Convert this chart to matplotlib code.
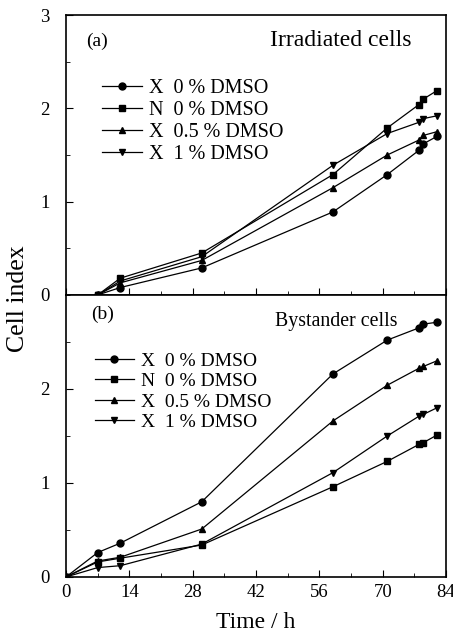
import matplotlib
matplotlib.use("Agg")
import matplotlib.pyplot as plt
from matplotlib.ticker import MultipleLocator

plt.rcParams['font.family'] = ['Liberation Serif', 'DejaVu Serif']

# Data
labels = ["X  0 % DMSO", "N  0 % DMSO", "X  0.5 % DMSO", "X  1 % DMSO"]
markers = ["o", "s", "^", "v"]

# (a) irradiated cells
time_a = [7, 12, 30, 59, 71, 78, 79, 82]
x0_a = [0.0, 0.08, 0.29, 0.89, 1.29, 1.55, 1.62, 1.70]
n0_a = [0.0, 0.18, 0.45, 1.29, 1.79, 2.04, 2.10, 2.19]
x05_a = [0.0, 0.13, 0.37, 1.15, 1.50, 1.66, 1.71, 1.75]
x1_a = [0.0, 0.15, 0.41, 1.39, 1.73, 1.85, 1.89, 1.92]

# (b) bystander cells
time_b = [0, 7, 12, 30, 59, 71, 78, 79, 82]
x0_b = [0.0, 0.26, 0.36, 0.80, 2.16, 2.52, 2.65, 2.69, 2.71]
n0_b = [0.0, 0.16, 0.20, 0.34, 0.96, 1.23, 1.41, 1.43, 1.51]
x05_b = [0.0, 0.17, 0.21, 0.51, 1.66, 2.04, 2.22, 2.24, 2.30]
x1_b = [0.0, 0.10, 0.12, 0.35, 1.11, 1.50, 1.71, 1.73, 1.80]

fig = plt.figure(figsize=(4.53, 6.33), dpi=100)
ax1 = fig.add_axes([0.1457, 0.534, 0.839, 0.4423])
ax2 = fig.add_axes([0.1457, 0.0885, 0.839, 0.4455])

series_a = [x0_a, n0_a, x05_a, x1_a]
series_b = [x0_b, n0_b, x05_b, x1_b]

# legend anchors (axes coords) and font sizes for each panel
leg_pos = {ax1: (0.094, 0.772), ax2: (0.076, 0.798)}
leg_size = {ax1: 14.5, ax2: 14}

for ax, t, series in [(ax1, time_a, series_a), (ax2, time_b, series_b)]:
    for vals, m, lab in zip(series, markers, labels):
        ax.plot(t, vals, color='black', marker=m, markersize=5, lw=0.9, label=lab)
    ax.set_xlim(0, 84)
    ax.set_ylim(0, 3)
    ax.xaxis.set_major_locator(MultipleLocator(14))
    ax.xaxis.set_minor_locator(MultipleLocator(7))
    ax.yaxis.set_major_locator(MultipleLocator(1))
    ax.yaxis.set_minor_locator(MultipleLocator(0.5))
    ax.tick_params(which='both', direction='in', top=False, right=False, labelsize=13.5)
    ax.tick_params(which='major', length=5)
    ax.tick_params(which='minor', length=3)
    ax.tick_params(axis='y', pad=12)
    ax.tick_params(axis='x', pad=5)
    for s in ax.spines.values():
        s.set_linewidth(1.2)
    ax.legend(loc='upper left', frameon=False, fontsize=leg_size[ax], handlelength=2.0,
              handletextpad=0.35, labelspacing=0.15, borderaxespad=0, borderpad=0,
              bbox_to_anchor=leg_pos[ax])

ax1.tick_params(labelbottom=False)
ax2.set_yticks([0, 1, 2])
ax2.set_xticks([0, 14, 28, 42, 56, 70, 84])

ax1.text(0.054, 0.907, "(a)", transform=ax1.transAxes, fontsize=14, va='center')
ax1.text(0.91, 0.889, "Irradiated cells", transform=ax1.transAxes, fontsize=17,
         ha='right', va='baseline')
ax2.text(0.066, 0.933, "(b)", transform=ax2.transAxes, fontsize=14, va='center')
ax2.text(0.872, 0.891, "Bystander cells", transform=ax2.transAxes, fontsize=14.3,
         ha='right', va='baseline')

fig.text(256 / 453, 1 - 628 / 633, "Time / h", fontsize=17, ha='center', va='baseline')
fig.text(18 / 453, 1 - 299 / 633, "Cell index", rotation=90, fontsize=18.5,
         ha='center', va='center')

fig.savefig("out.png", dpi=100)
